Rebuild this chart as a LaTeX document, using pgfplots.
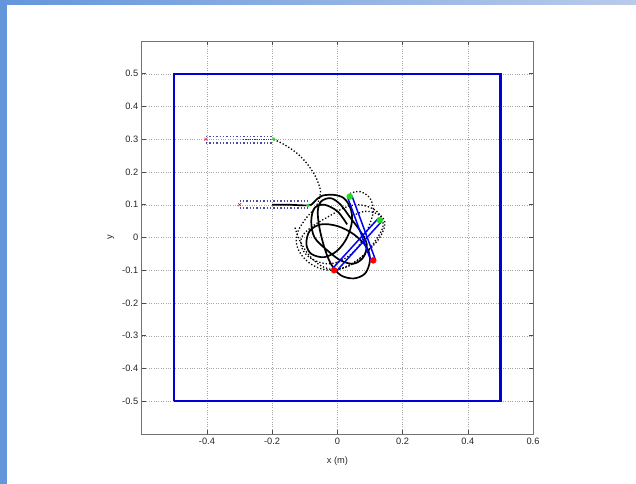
\documentclass[border=0pt]{standalone}
\usepackage{pgfplots}
\pgfplotsset{compat=1.18}
\usepackage{fontspec}
\setmainfont{Liberation Sans}
\definecolor{slideA}{HTML}{6496DC}
\definecolor{slideB}{HTML}{B9CBEB}
\definecolor{bardot}{HTML}{4A4AA8}
\definecolor{mgreen}{HTML}{22DD22}
\begin{document}
\begin{tikzpicture}[x=1bp,y=1bp]
\path[use as bounding box] (0,0) rectangle (636,484);
\fill[white] (0,0) rectangle (636,484);
\shade[left color=slideA, right color=slideB] (0,479) rectangle (636,484);
\fill[slideA] (0,0) rectangle (7,484);
\begin{axis}[
  at={(141.7bp,50bp)}, anchor=south west,
  scale only axis, width=391.3bp, height=393bp,
  xmin=-0.6, xmax=0.6, ymin=-0.6, ymax=0.6,
  xtick={-0.4,-0.2,0,0.2,0.4,0.6},
  ytick={-0.5,-0.4,-0.3,-0.2,-0.1,0,0.1,0.2,0.3,0.4,0.5},
  xticklabels={-0.4,-0.2,0,0.2,0.4,0.6},
  yticklabels={-0.5,-0.4,-0.3,-0.2,-0.1,0,0.1,0.2,0.3,0.4,0.5},
  tick align=inside, major tick length=4bp,
  tick style={black!70, line width=0.5bp},
  axis line style={black!55, line width=0.8bp},
  grid=major, grid style={black!35, dotted, line width=0.4bp},
  tick label style={font=\fontsize{9.3}{10}\selectfont, text=black!85},
  xticklabel style={yshift=-1bp},
  xlabel={x (m)}, ylabel={y},
  label style={font=\fontsize{9.3}{10}\selectfont, text=black!85},
  xlabel style={at={(axis description cs:0.5,-0.069)}, anchor=center},
  ylabel style={at={(axis description cs:-0.0785,0.5)}, anchor=center},
  clip=false,
]
% arena boundary
\addplot[blue!85!black, line width=2.3bp] coordinates {(-0.5,-0.5) (0.5,-0.5) (0.5,0.5) (-0.5,0.5) (-0.5,-0.5)};
% initial bars (dotted outlines)
\addplot[bardot, dotted, line width=1.4bp] coordinates {(-0.403,0.309) (-0.195,0.309)};
\addplot[bardot, dotted, line width=1.4bp] coordinates {(-0.403,0.289) (-0.195,0.289)};
\addplot[bardot, dotted, line width=1.4bp] coordinates {(-0.300,0.112) (-0.090,0.112)};
\addplot[bardot, dotted, line width=1.4bp] coordinates {(-0.300,0.090) (-0.090,0.090)};
\addplot[black!60!green, densely dotted, line width=0.8bp] coordinates {(-0.29,0.299) (-0.195,0.299)};
% dotted trajectory 1
\addplot[black, dotted, line width=1.3bp, smooth, tension=0.6] coordinates {
(-0.195,0.300) (-0.160,0.282) (-0.125,0.258) (-0.095,0.228) (-0.072,0.195) (-0.058,0.165)
(-0.052,0.135) (-0.065,0.095) (-0.095,0.060) (-0.120,0.020) (-0.125,-0.020) (-0.105,-0.060)
(-0.065,-0.090) (-0.015,-0.100) (0.035,-0.085) (0.085,-0.050) (0.120,-0.005) (0.140,0.035)
(0.130,0.070) (0.100,0.092) (0.060,0.100) (0.020,0.090) (-0.025,0.065) (-0.075,0.035)
(-0.110,0.000) (-0.105,-0.040) (-0.070,-0.070) (-0.020,-0.080) (0.030,-0.060) (0.070,-0.020)
(0.095,0.030) (0.110,0.080) (0.100,0.120) (0.070,0.140) (0.040,0.135)};
% dotted trajectory 2
\addplot[black, dotted, line width=1.3bp, smooth, tension=0.6] coordinates {
(-0.130,0.030) (-0.115,-0.010) (-0.090,-0.050) (-0.060,-0.080) (-0.030,-0.095) (0.000,-0.098)
(0.040,-0.085) (0.075,-0.060) (0.105,-0.030) (0.130,0.000) (0.145,0.035) (0.140,0.060)
(0.115,0.075) (0.085,0.080) (0.055,0.070)};
% solid trajectory
\addplot[black, line width=1.7bp, smooth, tension=0.55] coordinates {
(-0.200,0.100) (-0.150,0.100) (-0.100,0.098) (-0.080,0.100) (-0.065,0.115) (-0.045,0.128)
(-0.010,0.130) (0.020,0.120) (0.040,0.090) (0.045,0.050) (0.030,0.000) (0.000,-0.040)
(-0.040,-0.060) (-0.080,-0.050) (-0.095,-0.020) (-0.085,0.020) (-0.050,0.040) (0.000,0.035)
(0.050,0.010) (0.090,-0.030) (0.100,-0.070) (0.085,-0.110) (0.050,-0.125) (0.010,-0.115)
(-0.020,-0.080) (-0.040,-0.030) (-0.055,0.030) (-0.060,0.080) (-0.050,0.110) (-0.020,0.120)
(0.010,0.100) (0.040,0.060) (0.070,0.020) (0.090,-0.020) (0.080,-0.060) (0.050,-0.080)
(0.010,-0.070) (-0.030,-0.040) (-0.070,0.000) (-0.080,0.050) (-0.070,0.090) (-0.040,0.100)
(0.000,0.080) (0.030,0.040)};
% start markers
\addplot[only marks, mark=x, mark size=2.2bp, red!80!black] coordinates {(-0.403,0.300) (-0.300,0.100)};
\addplot[only marks, mark=*, mark size=1.5bp, mgreen] coordinates {(-0.195,0.300) (-0.090,0.098)};
% final bars
\addplot[blue, line width=1.5bp] coordinates {(0.0446,0.1274) (0.1166,-0.0676)};
\addplot[blue, line width=1.5bp] coordinates {(0.0314,0.1226) (0.1034,-0.0724)};
\addplot[blue, line width=1.5bp] coordinates {(0.1352,0.0483) (-0.0048,-0.1047)};
\addplot[blue, line width=1.5bp] coordinates {(0.1248,0.0577) (-0.0152,-0.0953)};
\addplot[only marks, mark=*, mark size=3bp, draw=red, fill=red] coordinates {(0.110,-0.070) (-0.010,-0.100)};
\addplot[only marks, mark=*, mark size=3bp, draw=mgreen, fill=mgreen] coordinates {(0.038,0.125) (0.130,0.053)};
\end{axis}
\end{tikzpicture}
\end{document}
